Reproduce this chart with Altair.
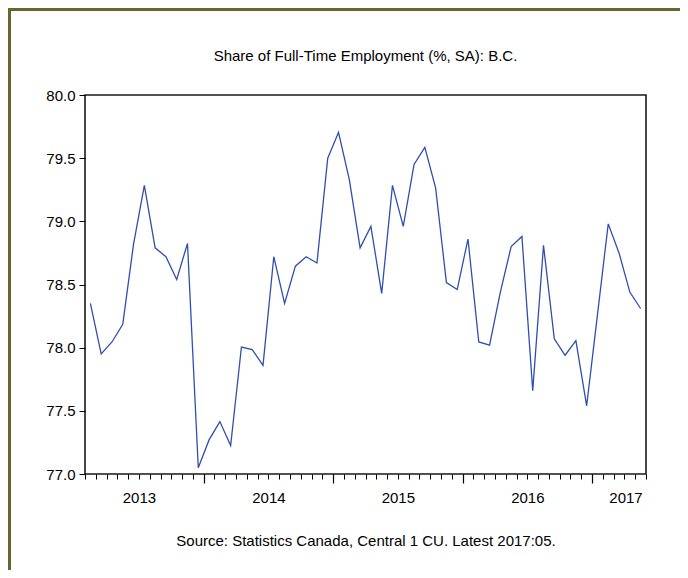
import altair as alt
import pandas as pd

# ---- data -------------------------------------------------------------
months = [
    "2013-02", "2013-03", "2013-04", "2013-05", "2013-06", "2013-07", "2013-08",
    "2013-09", "2013-10", "2013-11", "2013-12",
    "2014-01", "2014-02", "2014-03", "2014-04", "2014-05", "2014-06", "2014-07",
    "2014-08", "2014-09", "2014-10", "2014-11", "2014-12",
    "2015-01", "2015-02", "2015-03", "2015-04", "2015-05", "2015-06", "2015-07",
    "2015-08", "2015-09", "2015-10", "2015-11", "2015-12",
    "2016-01", "2016-02", "2016-03", "2016-04", "2016-05", "2016-06", "2016-07",
    "2016-08", "2016-09", "2016-10", "2016-11", "2016-12",
    "2017-01", "2017-02", "2017-03", "2017-04", "2017-05",
]
share = [
    78.35, 77.95, 78.045, 78.185, 78.82, 79.285, 78.79,
    78.72, 78.54, 78.825, 77.05,
    77.27, 77.415, 77.225, 78.005, 77.985, 77.86, 78.72,
    78.35, 78.645, 78.72, 78.67, 79.50,
    79.705, 79.33, 78.79, 78.96, 78.43, 79.285, 78.96,
    79.45, 79.585, 79.265, 78.515, 78.46,
    78.86, 78.045, 78.02, 78.44, 78.80, 78.88, 77.66,
    78.81, 78.07, 77.94, 78.055, 77.54,
    78.26, 78.98, 78.75, 78.44, 78.31,
]
year_labels = ["2013", "2014", "2015", "2016", "2017"]
y_ticks = [77.0, 77.5, 78.0, 78.5, 79.0, 79.5, 80.0]

title_text = "Share of Full-Time Employment (%, SA): B.C."
source_text = "Source: Statistics Canada, Central 1 CU. Latest 2017:05."

# ---- tables ------------------------------------------------------------
df = pd.DataFrame({"month": months, "share": share, "t": list(range(len(months)))})
title_df = pd.DataFrame({"label": [title_text]})

n = len(months)
minor_ticks = [i - 0.5 for i in range(n + 1)]
major_ticks = [i - 0.5 for i, m in enumerate(months) if m.endswith("-01")]
year_pos = [4.5, 16.5, 28.5, 40.5, 49.6]
label_expr = ("datum.value < 10.5 ? '%s' : datum.value < 22.5 ? '%s' : "
              "datum.value < 34.5 ? '%s' : datum.value < 46.5 ? '%s' : '%s'") % tuple(year_labels)

FONT = "Liberation Sans, Arial, sans-serif"
W, H = 561, 379
PAD = {"left": 77, "top": 87, "right": 34, "bottom": 96}

xscale = alt.Scale(domain=[-0.5, n - 0.5], nice=False, zero=False)
yscale = alt.Scale(domain=[77, 80], nice=False, zero=False)

y_axis = alt.Axis(values=y_ticks, format=".1f", tickSize=6, labelFontSize=15,
                  labelFont=FONT, labelColor="black", labelPadding=4,
                  labelFlush=False, domain=False, grid=False, title=None,
                  tickColor="black", tickWidth=1)
Y = alt.Y("share:Q", scale=yscale, axis=y_axis)

base = alt.Chart(df)

line = base.mark_line(color="#2f4fae", strokeWidth=1.3).encode(
    x=alt.X("t:Q", scale=xscale,
            axis=alt.Axis(orient="bottom", values=minor_ticks, tickSize=5, labels=False,
                          domain=False, grid=False, title=None, tickColor="black",
                          tickWidth=1)),
    y=Y,
)

major_layer = base.mark_line(opacity=0).encode(
    x=alt.X("t:Q", scale=xscale,
            axis=alt.Axis(orient="bottom", values=major_ticks, tickSize=9, labels=False,
                          domain=False, grid=False, title=None, tickColor="black",
                          tickWidth=1.2)),
    y=Y,
)

label_layer = base.mark_line(opacity=0).encode(
    x=alt.X("t:Q", scale=xscale,
            axis=alt.Axis(orient="bottom", values=year_pos, ticks=False, domain=False,
                          grid=False, labelExpr=label_expr, labelFontSize=15,
                          labelFont=FONT, labelColor="black", labelPadding=16,
                          labelFlush=False, labelOverlap=False,
                          title=source_text, titleFont=FONT, titleFontSize=15,
                          titleFontWeight="normal", titleColor="black",
                          titlePadding=28)),
    y=Y,
)

title_mark = alt.Chart(title_df).mark_text(
    font=FONT, fontSize=15, color="black", align="center", baseline="alphabetic"
).encode(text="label:N", x=alt.value(W / 2), y=alt.value(-34))

# olive outer frame of the original picture
frame_top = alt.Chart(title_df).mark_rule(color="#66662e", strokeWidth=3, clip=False).encode(
    x=alt.value(-PAD["left"]), x2=alt.value(W + PAD["right"]), y=alt.value(-PAD["top"] + 1.5))
frame_left = alt.Chart(title_df).mark_rule(color="#66662e", strokeWidth=3, clip=False).encode(
    x=alt.value(-PAD["left"] + 1.5), y=alt.value(-PAD["top"]), y2=alt.value(H + PAD["bottom"]))

chart = (
    alt.layer(line, major_layer, label_layer, title_mark, frame_top, frame_left)
    .resolve_axis(x="independent")
    .properties(
        width=W, height=H,
        autosize=alt.AutoSizeParams(type="none"),
        padding=PAD,
        background="white",
    )
    .configure_view(stroke="#1a1a1a", strokeWidth=1.6)
)

chart.save("out.html", embed_options={"renderer": "svg", "actions": False})
